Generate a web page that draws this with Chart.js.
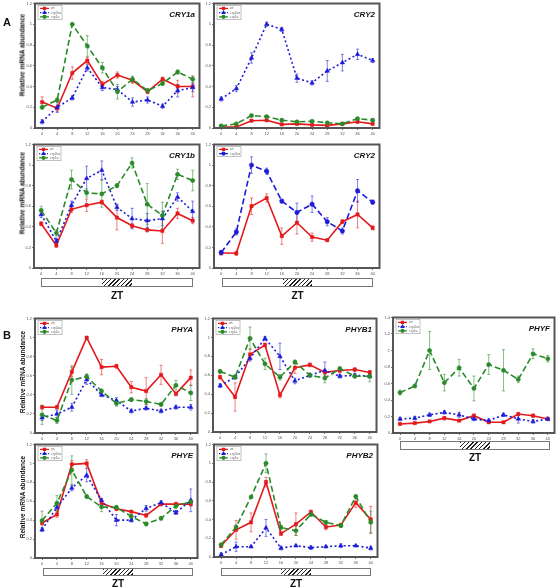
<!DOCTYPE html>
<html>
<head>
<meta charset="utf-8">
<script src="https://cdn.jsdelivr.net/npm/chart.js@4.4.1/dist/chart.umd.min.js"></script>
<style>
  body { margin: 0; background: #fff; font-family: "Liberation Sans", Arial, sans-serif; }
  #page { position: relative; width: 558px; height: 588px; overflow: hidden; }
  .pane { position: absolute; }
  .gene { position: absolute; font: bold italic 8px "Liberation Sans", Arial, sans-serif; color: #111; text-align: right; width: 60px; }
  .ylab { position: absolute; font: bold 6.5px "Liberation Sans", Arial, sans-serif; color: #111; white-space: nowrap;
          transform: translate(-50%, -50%) rotate(-90deg); }
  .letter { position: absolute; font: bold 11px "Liberation Sans", Arial, sans-serif; color: #111; }
  .zt { position: absolute; font: bold 10px "Liberation Sans", Arial, sans-serif; color: #111; transform: translateX(-50%); }
  .bar { position: absolute; border: 1px solid #777; background: #fff; box-sizing: border-box; }
  .hatch { position: absolute; top: 0; bottom: 0;
           background: repeating-linear-gradient(135deg, #222 0 1px, #fff 1px 3px); }
</style>
</head>
<body>
<div id="page"></div>
<script>
// sampling times (h)
const ZT = [0, 4, 8, 12, 16, 20, 24, 28, 32, 36, 40];
const DARK = [16, 24];
const GENOTYPES = ['wt', 'cry2ox', 'cry1a'];

// A – CRY1a
const CRY1A_WT     = [0.25, 0.19, 0.53, 0.65, 0.42, 0.51, 0.46, 0.35, 0.47, 0.40, 0.40];
const CRY1A_WT_E   = [0.05, 0.03, 0.06, 0.03, 0.03, 0.03, 0.03, 0.02, 0.02, 0.06, 0.10];
const CRY1A_OX     = [0.06, 0.20, 0.29, 0.58, 0.39, 0.37, 0.25, 0.27, 0.21, 0.36, 0.39];
const CRY1A_OX_E   = [0.02, 0.05, 0.02, 0.03, 0.03, 0.03, 0.04, 0.03, 0.02, 0.06, 0.04];
const CRY1A_MUT    = [0.20, 0.27, 1.00, 0.79, 0.58, 0.35, 0.47, 0.36, 0.43, 0.54, 0.47];
const CRY1A_MUT_E  = [0.02, 0.02, 0.01, 0.10, 0.05, 0.07, 0.03, 0.02, 0.02, 0.02, 0.03];
// A – CRY2 (top)
const CRY2_WT      = [0.01, 0.01, 0.07, 0.075, 0.035, 0.04, 0.03, 0.025, 0.04, 0.06, 0.04];
const CRY2_WT_E    = [0.01, 0.01, 0.01, 0.01, 0.01, 0.01, 0.01, 0.01, 0.01, 0.01, 0.01];
const CRY2_OX      = [0.28, 0.38, 0.675, 1.00, 0.95, 0.48, 0.435, 0.55, 0.63, 0.71, 0.65];
const CRY2_OX_E    = [0.02, 0.03, 0.05, 0.02, 0.02, 0.04, 0.02, 0.10, 0.08, 0.05, 0.02];
const CRY2_MUT     = [0.02, 0.04, 0.12, 0.11, 0.075, 0.06, 0.065, 0.05, 0.04, 0.09, 0.075];
const CRY2_MUT_E   = [0.01, 0.01, 0.01, 0.01, 0.01, 0.01, 0.01, 0.01, 0.01, 0.01, 0.01];
// A – CRY1b
const CRY1B_WT     = [0.43, 0.22, 0.57, 0.61, 0.64, 0.49, 0.41, 0.37, 0.36, 0.53, 0.46];
const CRY1B_WT_E   = [0.02, 0.02, 0.03, 0.06, 0.02, 0.12, 0.02, 0.02, 0.12, 0.05, 0.03];
const CRY1B_OX     = [0.52, 0.26, 0.61, 0.87, 0.95, 0.59, 0.48, 0.46, 0.48, 0.69, 0.55];
const CRY1B_OX_E   = [0.03, 0.03, 0.04, 0.12, 0.09, 0.03, 0.10, 0.07, 0.07, 0.04, 0.10];
const CRY1B_MUT    = [0.56, 0.34, 0.86, 0.73, 0.72, 0.80, 1.02, 0.62, 0.51, 0.91, 0.85];
const CRY1B_MUT_E  = [0.04, 0.03, 0.09, 0.04, 0.13, 0.02, 0.05, 0.20, 0.13, 0.05, 0.10];
// A – CRY2 (bottom)
const CRY2B_WT     = [0.146, 0.143, 0.60, 0.68, 0.31, 0.44, 0.30, 0.27, 0.45, 0.52, 0.39];
const CRY2B_WT_E   = [0.02, 0.02, 0.08, 0.04, 0.08, 0.11, 0.04, 0.01, 0.02, 0.13, 0.02];
const CRY2B_OX     = [0.15, 0.35, 1.00, 0.94, 0.65, 0.54, 0.62, 0.45, 0.36, 0.75, 0.64];
const CRY2B_OX_E   = [0.02, 0.03, 0.08, 0.03, 0.02, 0.09, 0.08, 0.04, 0.03, 0.11, 0.02];
// B – PHYA
const PHYA_WT      = [0.27, 0.27, 0.64, 1.00, 0.69, 0.70, 0.48, 0.44, 0.61, 0.41, 0.58];
const PHYA_WT_E    = [0.02, 0.02, 0.05, 0.01, 0.08, 0.02, 0.06, 0.14, 0.10, 0.02, 0.08];
const PHYA_OX      = [0.16, 0.20, 0.27, 0.56, 0.40, 0.34, 0.23, 0.26, 0.23, 0.27, 0.27];
const PHYA_OX_E    = [0.03, 0.04, 0.04, 0.05, 0.02, 0.03, 0.02, 0.02, 0.02, 0.02, 0.03];
const PHYA_MUT     = [0.19, 0.13, 0.555, 0.59, 0.44, 0.31, 0.35, 0.33, 0.30, 0.50, 0.42];
const PHYA_MUT_E   = [0.10, 0.03, 0.15, 0.03, 0.02, 0.03, 0.02, 0.03, 0.02, 0.05, 0.08];
// B – PHYB1
const PHYB1_WT     = [0.58, 0.37, 0.82, 0.92, 0.39, 0.68, 0.71, 0.63, 0.65, 0.66, 0.63];
const PHYB1_WT_E   = [0.02, 0.15, 0.06, 0.02, 0.03, 0.06, 0.02, 0.03, 0.02, 0.02, 0.02];
const PHYB1_OX     = [0.49, 0.58, 0.78, 0.99, 0.80, 0.54, 0.60, 0.65, 0.59, 0.60, 0.59];
const PHYB1_OX_E   = [0.02, 0.02, 0.03, 0.02, 0.14, 0.03, 0.02, 0.09, 0.02, 0.02, 0.02];
const PHYB1_MUT    = [0.64, 0.58, 0.99, 0.72, 0.58, 0.74, 0.60, 0.57, 0.67, 0.59, 0.59];
const PHYB1_MUT_E  = [0.02, 0.02, 0.12, 0.06, 0.03, 0.02, 0.02, 0.05, 0.02, 0.02, 0.06];
// B – PHYF
const PHYF_WT      = [0.11, 0.12, 0.14, 0.18, 0.15, 0.21, 0.13, 0.13, 0.23, 0.21, 0.17];
const PHYF_WT_E    = [0.01, 0.01, 0.01, 0.02, 0.01, 0.02, 0.01, 0.01, 0.02, 0.02, 0.01];
const PHYF_OX      = [0.17, 0.18, 0.22, 0.25, 0.22, 0.17, 0.15, 0.22, 0.17, 0.14, 0.17];
const PHYF_OX_E    = [0.02, 0.02, 0.02, 0.02, 0.03, 0.02, 0.02, 0.02, 0.05, 0.02, 0.02];
const PHYF_MUT     = [0.49, 0.57, 1.00, 0.61, 0.79, 0.54, 0.83, 0.76, 0.65, 0.96, 0.90];
const PHYF_MUT_E   = [0.03, 0.02, 0.23, 0.10, 0.10, 0.15, 0.12, 0.25, 0.04, 0.06, 0.04];
// B – PHYE
const PHYE_WT      = [0.37, 0.46, 0.99, 1.00, 0.58, 0.52, 0.49, 0.45, 0.57, 0.57, 0.57];
const PHYE_WT_E    = [0.02, 0.03, 0.04, 0.04, 0.02, 0.02, 0.01, 0.02, 0.02, 0.02, 0.02];
const PHYE_OX      = [0.30, 0.535, 0.74, 0.875, 0.61, 0.40, 0.40, 0.525, 0.585, 0.48, 0.61];
const PHYE_OX_E    = [0.02, 0.03, 0.03, 0.07, 0.02, 0.06, 0.02, 0.03, 0.02, 0.02, 0.12];
const PHYE_MUT     = [0.395, 0.58, 0.93, 0.65, 0.54, 0.535, 0.44, 0.36, 0.42, 0.55, 0.595];
const PHYE_MUT_E   = [0.10, 0.08, 0.15, 0.02, 0.05, 0.02, 0.02, 0.02, 0.02, 0.03, 0.02];
// B – PHYB2
const PHYB2_WT     = [0.12, 0.29, 0.37, 0.80, 0.25, 0.35, 0.48, 0.32, 0.34, 0.58, 0.40];
const PHYB2_WT_E   = [0.02, 0.10, 0.10, 0.05, 0.02, 0.12, 0.02, 0.03, 0.02, 0.05, 0.14];
const PHYB2_OX     = [0.025, 0.11, 0.11, 0.31, 0.095, 0.12, 0.10, 0.11, 0.12, 0.12, 0.095];
const PHYB2_OX_E   = [0.02, 0.05, 0.01, 0.09, 0.02, 0.01, 0.02, 0.01, 0.02, 0.01, 0.02];
const PHYB2_MUT    = [0.13, 0.32, 0.64, 1.00, 0.315, 0.28, 0.455, 0.37, 0.335, 0.645, 0.37];
const PHYB2_MUT_E  = [0.02, 0.02, 0.01, 0.10, 0.02, 0.05, 0.02, 0.02, 0.02, 0.02, 0.12];

// line / marker styles per genotype
const STYLE = {
  wt:   { color: '#e3191c', err: 'rgba(227,25,28,0.55)', dash: [],     point: 'rect',     r: 2.3 },
  ox:   { color: '#1c1cd8', err: 'rgba(28,28,216,0.55)', dash: [2, 2.5], point: 'triangle', r: 2.6 },
  oxb:  { color: '#1c1cd8', err: 'rgba(28,28,216,0.55)', dash: [6, 3], point: 'circle',   r: 2.2 },
  mut:  { color: '#2a8a2a', err: 'rgba(42,138,42,0.55)', dash: [6, 3], point: 'circle',   r: 2.1 },
};

// plot boxes [left, top, right, bottom] in page pixels
const PANELS = [
  { box: [35, 2, 201, 128],   yMax: 1.2, gene: 'CRY1a', ylab: 55,
    series: [['wt', CRY1A_WT, CRY1A_WT_E], ['ox', CRY1A_OX, CRY1A_OX_E], ['mut', CRY1A_MUT, CRY1A_MUT_E]] },
  { box: [214, 2, 381, 128],  yMax: 1.2, gene: 'CRY2',
    series: [['wt', CRY2_WT, CRY2_WT_E], ['ox', CRY2_OX, CRY2_OX_E], ['mut', CRY2_MUT, CRY2_MUT_E]] },
  { box: [34, 143, 201, 268], yMax: 1.2, gene: 'CRY1b', ylab: 193,
    series: [['wt', CRY1B_WT, CRY1B_WT_E], ['ox', CRY1B_OX, CRY1B_OX_E], ['mut', CRY1B_MUT, CRY1B_MUT_E]] },
  { box: [214, 143, 381, 268], yMax: 1.2, gene: 'CRY2',
    series: [['wt', CRY2B_WT, CRY2B_WT_E], ['oxb', CRY2B_OX, CRY2B_OX_E]] },
  { box: [35, 317, 199, 433], yMax: 1.2, gene: 'PHYA', ylab: 372,
    series: [['wt', PHYA_WT, PHYA_WT_E], ['ox', PHYA_OX, PHYA_OX_E], ['mut', PHYA_MUT, PHYA_MUT_E]] },
  { box: [213, 317, 378, 432], yMax: 1.2, gene: 'PHYB1',
    series: [['wt', PHYB1_WT, PHYB1_WT_E], ['ox', PHYB1_OX, PHYB1_OX_E], ['mut', PHYB1_MUT, PHYB1_MUT_E]] },
  { box: [393, 316, 556, 433], yMax: 1.4, gene: 'PHYF',
    series: [['wt', PHYF_WT, PHYF_WT_E], ['ox', PHYF_OX, PHYF_OX_E], ['mut', PHYF_MUT, PHYF_MUT_E]] },
  { box: [35, 443, 199, 558], yMax: 1.2, gene: 'PHYE', ylab: 497,
    series: [['wt', PHYE_WT, PHYE_WT_E], ['ox', PHYE_OX, PHYE_OX_E], ['mut', PHYE_MUT, PHYE_MUT_E]] },
  { box: [214, 443, 379, 557], yMax: 1.2, gene: 'PHYB2',
    series: [['wt', PHYB2_WT, PHYB2_WT_E], ['ox', PHYB2_OX, PHYB2_OX_E], ['mut', PHYB2_MUT, PHYB2_MUT_E]] },
];

// light/dark bars under the bottom panels: [left, top, width, height, ZT label y]
const BARS = [
  [41, 278, 152, 9, 290], [222, 278, 151, 9, 290],
  [400, 441, 150, 9, 452],
  [43, 568, 150, 8, 578], [221, 568, 150, 8, 578],
];

const Y_AXIS_W = 14, X_AXIS_H = 9, PAD_T = 3, PAD_R = 3;
const page = document.getElementById('page');

const frame = {
  id: 'frame',
  afterDraw(c) {
    const a = c.chartArea, ctx = c.ctx;
    ctx.save();
    ctx.strokeStyle = '#555';
    ctx.lineWidth = 2;
    ctx.strokeRect(a.left, a.top, a.right - a.left, a.bottom - a.top);
    ctx.restore();
  }
};

const errBars = {
  id: 'errBars',
  beforeDatasetsDraw(c) {
    const ctx = c.ctx, xs = c.scales.x, ys = c.scales.y;
    c.data.datasets.forEach(ds => {
      ctx.save();
      ctx.strokeStyle = ds.errColor;
      ctx.lineWidth = 1;
      ds.data.forEach((p, i) => {
        const e = ds.err[i];
        const px = xs.getPixelForValue(p.x);
        const y1 = ys.getPixelForValue(p.y - e), y2 = ys.getPixelForValue(p.y + e);
        ctx.beginPath();
        ctx.moveTo(px, y1); ctx.lineTo(px, y2);
        ctx.moveTo(px - 1.5, y1); ctx.lineTo(px + 1.5, y1);
        ctx.moveTo(px - 1.5, y2); ctx.lineTo(px + 1.5, y2);
        ctx.stroke();
      });
      ctx.restore();
    });
  }
};

const miniLegend = {
  id: 'miniLegend',
  afterDatasetsDraw(c) {
    const a = c.chartArea, ctx = c.ctx, sets = c.data.datasets;
    const x0 = a.left + 3, y0 = a.top + 2, w = 24, rh = 4.2;
    const h = sets.length * rh + 1.6;
    ctx.save();
    ctx.fillStyle = '#fff';
    ctx.fillRect(x0, y0, w, h);
    ctx.strokeStyle = '#999';
    ctx.lineWidth = 0.6;
    ctx.strokeRect(x0, y0, w, h);
    sets.forEach((ds, i) => {
      const yy = y0 + 0.8 + rh * (i + 0.5);
      ctx.strokeStyle = ds.borderColor;
      ctx.lineWidth = 1.2;
      ctx.setLineDash(ds.borderDash.map(v => v * 0.6));
      ctx.beginPath(); ctx.moveTo(x0 + 2, yy); ctx.lineTo(x0 + 11, yy); ctx.stroke();
      ctx.setLineDash([]);
      ctx.fillStyle = ds.borderColor;
      Chart.helpers.drawPoint(ctx, { pointStyle: ds.pointStyle, radius: 1.5, borderWidth: 0.5 }, x0 + 6.5, yy);
      ctx.fillStyle = '#666';
      ctx.font = '3.5px "Liberation Sans"';
      ctx.textBaseline = 'middle';
      ctx.fillText(ds.label, x0 + 13, yy);
    });
    ctx.restore();
  }
};

function addText(cls, text, css) {
  const d = document.createElement('div');
  d.className = cls;
  d.textContent = text;
  Object.assign(d.style, css);
  page.appendChild(d);
  return d;
}

PANELS.forEach(p => {
  const [L, T, R, B] = p.box;
  const wrap = document.createElement('div');
  wrap.className = 'pane';
  const w = R - L + Y_AXIS_W + PAD_R, h = B - T + X_AXIS_H + PAD_T;
  Object.assign(wrap.style, { left: (L - Y_AXIS_W) + 'px', top: (T - PAD_T) + 'px', width: w + 'px', height: h + 'px' });
  const cv = document.createElement('canvas');
  cv.width = w; cv.height = h;
  wrap.appendChild(cv);
  page.appendChild(wrap);

  const datasets = p.series.map(([kind, vals, errs], i) => {
    const s = STYLE[kind];
    return {
      label: GENOTYPES[i],
      data: ZT.map((x, j) => ({ x, y: vals[j] })),
      err: errs,
      errColor: s.err,
      borderColor: s.color,
      backgroundColor: s.color,
      borderWidth: 1.6,
      borderDash: s.dash,
      pointStyle: s.point,
      pointRadius: s.r,
      pointBorderWidth: 0.5,
      tension: 0,
      order: 3 - i,
    };
  });

  new Chart(cv, {
    type: 'line',
    data: { datasets },
    options: {
      responsive: false,
      animation: false,
      events: [],
      layout: { padding: { top: PAD_T, right: PAD_R, left: 0, bottom: 0 } },
      plugins: { legend: { display: false }, tooltip: { enabled: false } },
      scales: {
        x: {
          type: 'linear', min: -1.9, max: 41.8,
          afterBuildTicks: s => { s.ticks = ZT.map(v => ({ value: v })); },
          afterFit: s => { s.height = X_AXIS_H; },
          grid: { drawOnChartArea: false, tickLength: 2, color: '#777' },
          border: { display: false },
          ticks: { font: { size: 4, family: 'Liberation Sans' }, color: '#555', padding: 1, maxRotation: 0, autoSkip: false },
        },
        y: {
          min: 0, max: p.yMax,
          afterFit: s => { s.width = Y_AXIS_W; },
          grid: { drawOnChartArea: false, tickLength: 2, color: '#777' },
          border: { display: false },
          ticks: { stepSize: 0.2, font: { size: 4, family: 'Liberation Sans' }, color: '#555', padding: 1,
                   callback: v => String(+v.toFixed(1)) },
        },
      },
    },
    plugins: [errBars, miniLegend, frame],
  });

  addText('gene', p.gene, { left: (R - 66) + 'px', top: (T + 8) + 'px' });
  if (p.ylab) addText('ylab', 'Relative mRNA abundance', { left: '22px', top: p.ylab + 'px' });
});

BARS.forEach(([l, t, w, h, ty]) => {
  const bar = document.createElement('div');
  bar.className = 'bar';
  Object.assign(bar.style, { left: l + 'px', top: t + 'px', width: w + 'px', height: h + 'px' });
  const hatch = document.createElement('div');
  hatch.className = 'hatch';
  hatch.style.left = (DARK[0] / 40 * 100) + '%';
  hatch.style.width = ((DARK[1] - DARK[0]) / 40 * 100) + '%';
  bar.appendChild(hatch);
  page.appendChild(bar);
  addText('zt', 'ZT', { left: (l + w / 2) + 'px', top: ty + 'px' });
});

addText('letter', 'A', { left: '3px', top: '16px' });
addText('letter', 'B', { left: '3px', top: '329px' });
</script>
</body>
</html>
